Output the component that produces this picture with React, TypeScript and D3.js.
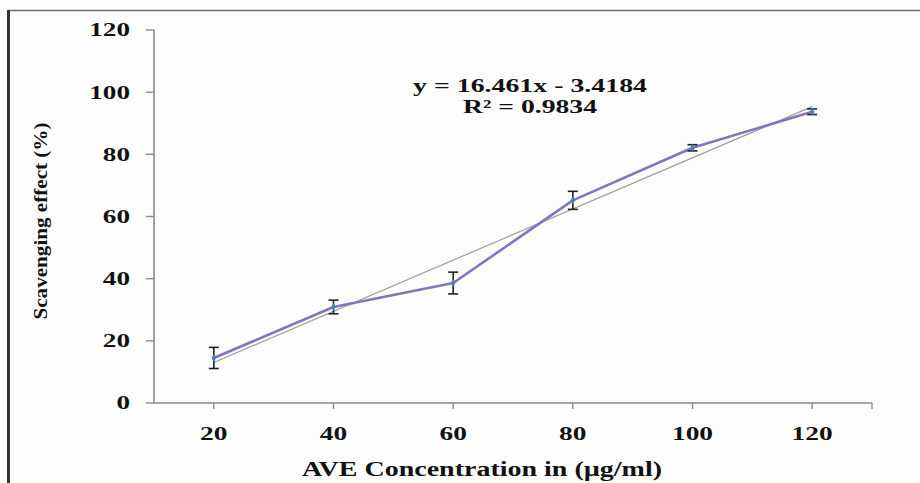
import React from "react";
import * as d3 from "d3";

const concentrations = [20, 40, 60, 80, 100, 120];
const scavenging = [14.5, 30.9, 38.6, 65.2, 82.1, 93.7];
const errors = [3.4, 2.2, 3.5, 2.9, 1.0, 0.9];
const yTicks = [0, 20, 40, 60, 80, 100, 120];
const trendSlope = 16.461;
const trendIntercept = -3.4184;
const equationText = "y = 16.461x - 3.4184";
const r2Text = "R² = 0.9834";
const xTitle = "AVE Concentration in (µg/ml)";
const yTitle = "Scavenging effect (%)";

const W = 920;
const H = 483;
const FONT = "'Liberation Serif', 'Times New Roman', serif";

export default function App() {
  const x = d3.scaleLinear().domain([10, 130]).range([154, 872]);
  const y = d3.scaleLinear().domain([0, 120]).range([403, 30]);

  const pts = concentrations.map((c, i) => ({ c, v: scavenging[i], e: errors[i], i }));
  const line = d3
    .line<{ c: number; v: number }>()
    .x((d) => x(d.c))
    .y((d) => y(d.v));

  const trendPts = [
    { c: concentrations[0], v: trendSlope * 1 + trendIntercept },
    { c: concentrations[concentrations.length - 1], v: trendSlope * concentrations.length + trendIntercept },
  ];

  const xTickPositions = [...concentrations, 130];
  const axisColor = "#8a8a8a";

  return (
    <svg
      width={W}
      height={H}
      style={{ position: "absolute", left: 0, top: 0, background: "#fdfdfd" }}
    >
      {/* frame */}
      <line x1={8} y1={10.5} x2={W} y2={10.5} stroke="#6e6e6e" strokeWidth={1.6} />
      <line x1={8.5} y1={10} x2={8.5} y2={H} stroke="#333" strokeWidth={3} />

      {/* y axis */}
      <line x1={154} y1={y(120)} x2={154} y2={y(0)} stroke={axisColor} strokeWidth={1.6} />
      {yTicks.map((t) => (
        <g key={"yt" + t}>
          <line x1={146} x2={154} y1={y(t)} y2={y(t)} stroke={axisColor} strokeWidth={1.4} />
          <text
            x={130}
            y={y(t)}
            dy="0.36em"
            textAnchor="end"
            fontFamily={FONT}
            fontWeight="bold"
            fontSize={18}
            textLength={String(t).length * 13.6}
            lengthAdjust="spacingAndGlyphs"
            fill="#111"
          >
            {t}
          </text>
        </g>
      ))}

      {/* x axis */}
      <line x1={154} y1={403} x2={x(130)} y2={403} stroke={axisColor} strokeWidth={1.6} />
      {xTickPositions.map((c) => (
        <line key={"xt" + c} x1={x(c)} x2={x(c)} y1={403} y2={409} stroke={axisColor} strokeWidth={1.4} />
      ))}
      {concentrations.map((c) => (
        <text
          key={"xl" + c}
          x={x(c)}
          y={440}
          textAnchor="middle"
          fontFamily={FONT}
          fontWeight="bold"
          fontSize={19}
          textLength={String(c).length * 13.7}
          lengthAdjust="spacingAndGlyphs"
          fill="#111"
        >
          {c}
        </text>
      ))}

      {/* axis titles */}
      <text
        x={482}
        y={476}
        textAnchor="middle"
        fontFamily={FONT}
        fontWeight="bold"
        fontSize={20}
        textLength={360}
        lengthAdjust="spacingAndGlyphs"
        fill="#111"
      >
        {xTitle}
      </text>
      <text
        transform="translate(47,221) rotate(-90)"
        textAnchor="middle"
        fontFamily={FONT}
        fontWeight="bold"
        fontSize={19}
        textLength={197}
        lengthAdjust="spacingAndGlyphs"
        fill="#111"
      >
        {yTitle}
      </text>

      {/* trendline */}
      <path d={line(trendPts) || ""} fill="none" stroke="#9c9c94" strokeWidth={1.2} />

      {/* series line */}
      <path d={line(pts) || ""} fill="none" stroke="#8574bb" strokeWidth={2.6} strokeLinejoin="round" />

      {/* error bars */}
      {pts.map((p) => (
        <g key={"eb" + p.i} stroke="#222" strokeWidth={1.6}>
          <line x1={x(p.c)} x2={x(p.c)} y1={y(p.v - p.e)} y2={y(p.v + p.e)} />
          <line x1={x(p.c) - 5} x2={x(p.c) + 5} y1={y(p.v - p.e)} y2={y(p.v - p.e)} />
          <line x1={x(p.c) - 5} x2={x(p.c) + 5} y1={y(p.v + p.e)} y2={y(p.v + p.e)} />
        </g>
      ))}

      {/* markers */}
      {pts.map((p) => (
        <path
          key={"mk" + p.i}
          d={d3.symbol(d3.symbolDiamond, 18)() || ""}
          transform={`translate(${x(p.c)},${y(p.v)})`}
          fill="#4a7ebb"
        />
      ))}

      {/* equation */}
      <text
        x={530}
        y={92}
        textAnchor="middle"
        fontFamily={FONT}
        fontWeight="bold"
        fontSize={19}
        textLength={234}
        lengthAdjust="spacingAndGlyphs"
        fill="#111"
      >
        {equationText}
      </text>
      <text
        x={530}
        y={113}
        textAnchor="middle"
        fontFamily={FONT}
        fontWeight="bold"
        fontSize={19}
        textLength={134}
        lengthAdjust="spacingAndGlyphs"
        fill="#111"
      >
        {r2Text}
      </text>
    </svg>
  );
}
